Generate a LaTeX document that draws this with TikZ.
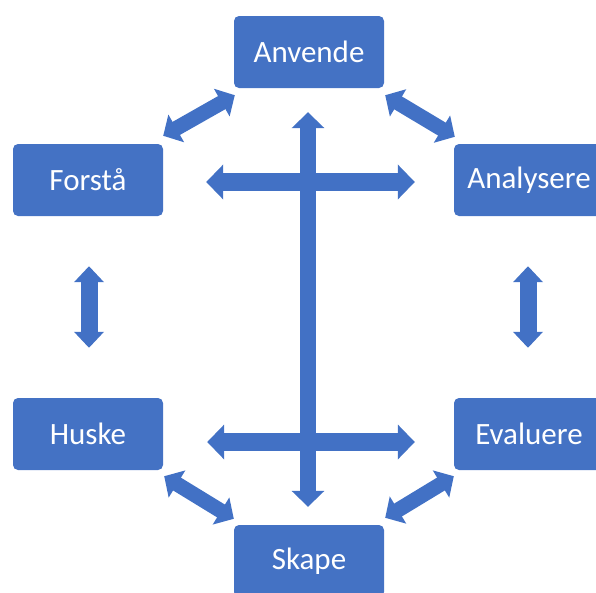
\documentclass[tikz,border=0pt]{standalone}
\usepackage{fontspec}
\setmainfont{Carlito}
\usetikzlibrary{arrows.meta,calc}
\definecolor{boxblue}{HTML}{4472C4}
\definecolor{arrowblue}{HTML}{4271C5}

\tikzset{
  level/.style={fill=boxblue, text=white, rounded corners=5pt, minimum width=150pt,
    minimum height=72pt, inner sep=0pt, font=\fontsize{31}{37}\selectfont},
  blockarrow/.style n args={3}{draw=arrowblue, line width=#1,
    arrows={Triangle[width=#2,length=#3]-Triangle[width=#2,length=#3]}}
}

\begin{document}
\begin{tikzpicture}[x=1pt,y=-1pt]
                  \useasboundingbox (0,0) rectangle (596,592);
                  \clip (0,0) rectangle (596,592);

                  % levels
                  \node[level] (anvende) at (309,52) {Anvende};
                  \node[level] (forsta) at (88,180) {Forstå};
                  \node[level] (analysere) at (529,180) {Analysere};
                  \node[level] (huske) at (88,434) {Huske};
                  \node[level] (evaluere) at (529,434) {Evaluere};
                  \node[level] (skape) at (309,561) {Skape};

                  % cross in the middle
                  \draw[blockarrow={16pt}{32pt}{16pt}, shorten <=24pt, shorten >=18pt]
                    ($(anvende.south)+(-1,0)$) -- ($(skape.north)+(-1,0)$);
                  \draw[blockarrow={18pt}{34pt}{17pt}, shorten <=43pt, shorten >=39pt]
                    ($(forsta.east)+(0,2)$) -- ($(analysere.west)+(0,2)$);
                  \draw[blockarrow={18pt}{34pt}{17pt}, shorten <=44pt, shorten >=39pt]
                    ($(huske.east)+(0,8)$) -- ($(evaluere.west)+(0,8)$);

                  % sides
                  \draw[blockarrow={17pt}{29pt}{16pt}, shorten <=50pt, shorten >=50pt]
                    ($(forsta.south)+(1,0)$) -- ($(huske.north)+(1,0)$);
                  \draw[blockarrow={17pt}{29pt}{16pt}, shorten <=50pt, shorten >=50pt]
                    ($(analysere.south)+(-1,0)$) -- ($(evaluere.north)+(-1,0)$);

                  % corners
                  \draw[blockarrow={15pt}{31pt}{15pt}]
                    ($(forsta.north east)+(0,-8)$) -- ($(anvende.south west)+(1,7)$);
                  \draw[blockarrow={15pt}{31pt}{15pt}]
                    ($(anvende.south east)+(1,7)$) -- ($(analysere.north west)+(1,-7)$);
                  \draw[blockarrow={15pt}{31pt}{15pt}]
                    ($(huske.south east)+(1,6)$) -- ($(skape.north west)+(0,-6)$);
                  \draw[blockarrow={15pt}{31pt}{15pt}]
                    ($(skape.north east)+(1,-7)$) -- ($(evaluere.south west)+(0,6)$);
              \end{tikzpicture}
\end{document}
